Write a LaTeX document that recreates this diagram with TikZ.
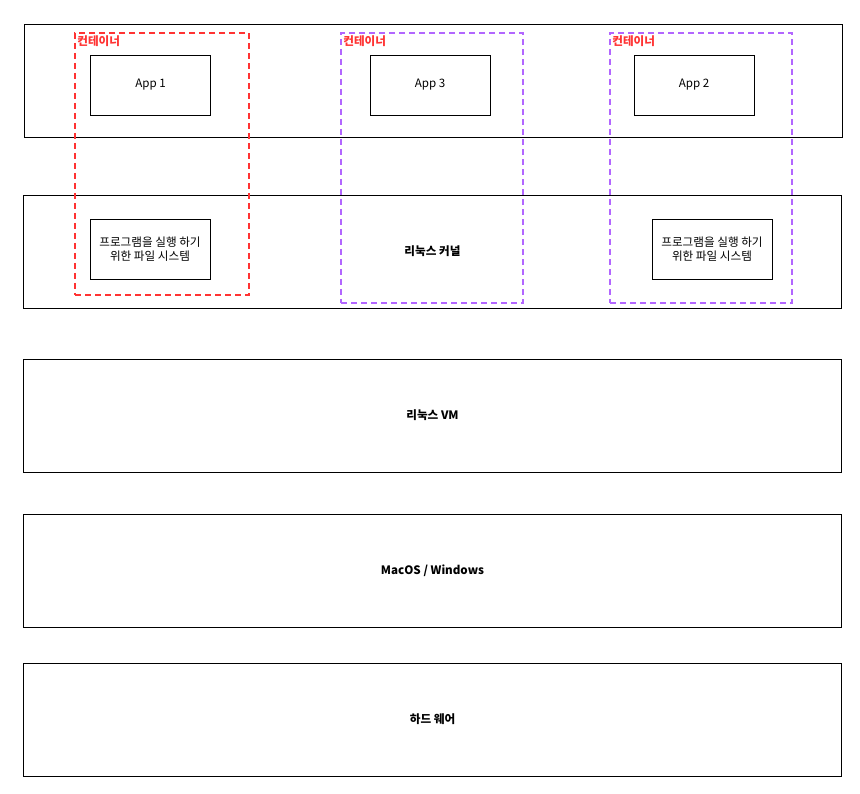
\documentclass[tikz,border=0pt]{standalone}
\usepackage{fontspec}
\setmainfont{Noto Sans CJK KR}
\usepackage{xcolor}
\definecolor{boxred}{HTML}{FF3333}
\definecolor{boxpurple}{HTML}{B266FF}
\tikzset{
    layer-box/.style = {draw=black, thin, rectangle, minimum width=818pt, minimum height=113pt, font=\fontsize{11.6}{13}\selectfont\bfseries},
    app-box/.style = {draw=black, thin, rectangle, minimum width=120pt, minimum height=60pt, align=center, font=\fontsize{11.6}{14}\selectfont},
    container-box/.style = {dashed, dash pattern=on 6pt off 4pt, line width=1.6pt, rectangle, minimum width=182pt, minimum height=270pt},
    container-title/.style = {text=boxred, font=\fontsize{11.6}{13}\selectfont\bfseries, inner sep=1pt, anchor=north west},
}
\begin{document}
\begin{tikzpicture}[x=1pt, y=-1pt]
\useasboundingbox (0,0) rectangle (860,794);
\node [layer-box] (apps) at (433,80.5) {};
\node [layer-box] (kernel) at (432.5,251.5) {리눅스 커널};
\node [layer-box] (vm) at (432.5,415.5) {리눅스 VM};
\node [layer-box] (os) at (432.5,570.5) {MacOS / Windows};
\node [layer-box] (hw) at (432.5,719.5) {하드 웨어};
\node [app-box] (app1) at (150.5,85) {App 1};
\node [app-box] (app3) at (430,85) {App 3};
\node [app-box] (app2) at (694,85) {App 2};
\node [app-box] (fs1) at (150,249) {프로그램을 실행 하기\\위한 파일 시스템};
\node [app-box] (fs2) at (712,249) {프로그램을 실행 하기\\위한 파일 시스템};
\node [container-box, draw=boxred, minimum width=174pt, minimum height=262pt] (cont1) at (162,164) {};
\node [container-box, draw=boxpurple] (cont3) at (432,168) {};
\node [container-box, draw=boxpurple] (cont2) at (701,168) {};
\node [container-title] at ([shift={(2pt,-2pt)}]cont1.north west) {컨테이너};
\node [container-title] at ([shift={(2pt,-2pt)}]cont3.north west) {컨테이너};
\node [container-title] at ([shift={(2pt,-2pt)}]cont2.north west) {컨테이너};
\end{tikzpicture}
\end{document}
